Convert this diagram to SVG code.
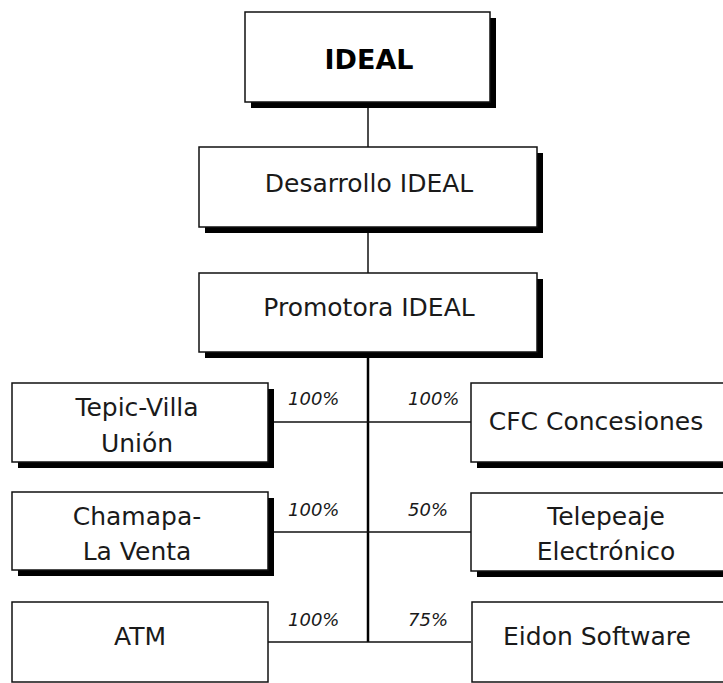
<svg xmlns="http://www.w3.org/2000/svg" width="723" height="683" viewBox="0 0 723 683">
<style>
.box{fill:#fff;stroke:#111;stroke-width:1.5}
.sh{fill:#000}
.t{font-family:"DejaVu Sans",sans-serif;font-size:25px;fill:#1a1a1a;text-anchor:middle}
.b{font-family:"DejaVu Sans",sans-serif;font-size:27px;font-weight:bold;fill:#000;text-anchor:middle}
.p{font-family:"DejaVu Sans",sans-serif;font-size:18px;font-style:italic;fill:#1a1a1a}
.c{stroke:#111;stroke-width:1.5;fill:none}
.trunk{stroke:#000;stroke-width:2.5;fill:none}
</style>
<rect width="723" height="683" fill="#fff"/>
<g id="connectors">
<line class="c" x1="368" y1="102" x2="368" y2="147"/>
<line class="c" x1="368" y1="227" x2="368" y2="273"/>
<line class="trunk" x1="368" y1="352" x2="368" y2="642"/>
<line class="c" x1="268" y1="422" x2="471" y2="422"/>
<line class="c" x1="268" y1="532" x2="471" y2="532"/>
<line class="c" x1="268" y1="642" x2="471" y2="642"/>
<text class="p" x="288" y="405">100%</text>
<text class="p" x="408" y="405">100%</text>
<text class="p" x="288" y="516">100%</text>
<text class="p" x="408" y="516">50%</text>
<text class="p" x="288" y="626">100%</text>
<text class="p" x="408" y="626">75%</text>
</g>
<g id="ideal">
<rect class="sh" x="251" y="18" width="245" height="90"/>
<rect class="box" x="245" y="12" width="245" height="90"/>
<text class="b" x="369" y="69">IDEAL</text>
</g>
<g id="desarrollo">
<rect class="sh" x="205" y="153" width="338" height="80"/>
<rect class="box" x="199" y="147" width="338" height="80"/>
<text class="t" x="369" y="192">Desarrollo IDEAL</text>
</g>
<g id="promotora">
<rect class="sh" x="205" y="279" width="338" height="79"/>
<rect class="box" x="199" y="273" width="338" height="79"/>
<text class="t" x="369" y="316">Promotora IDEAL</text>
</g>
<g id="tepic">
<rect class="sh" x="18" y="389" width="256" height="79"/>
<rect class="box" x="12" y="383" width="256" height="79"/>
<text class="t" x="137" y="416">Tepic-Villa</text>
<text class="t" x="137" y="452">Unión</text>
</g>
<g id="cfc">
<rect class="sh" x="477" y="389" width="270" height="79"/>
<rect class="box" x="471" y="383" width="270" height="79"/>
<text class="t" x="596" y="430">CFC Concesiones</text>
</g>
<g id="chamapa">
<rect class="sh" x="18" y="498" width="256" height="78"/>
<rect class="box" x="12" y="492" width="256" height="78"/>
<text class="t" x="137" y="525">Chamapa-</text>
<text class="t" x="137" y="560">La Venta</text>
</g>
<g id="telepeaje">
<rect class="sh" x="477" y="499" width="270" height="78"/>
<rect class="box" x="471" y="493" width="270" height="78"/>
<text class="t" x="606" y="525">Telepeaje</text>
<text class="t" x="606" y="560">Electrónico</text>
</g>
<g id="atm">
<rect class="box" x="12" y="602" width="256" height="80"/>
<text class="t" x="140" y="645">ATM</text>
</g>
<g id="eidon">
<rect class="box" x="472" y="602" width="270" height="80"/>
<text class="t" x="597" y="645">Eidon Software</text>
</g>
</svg>
